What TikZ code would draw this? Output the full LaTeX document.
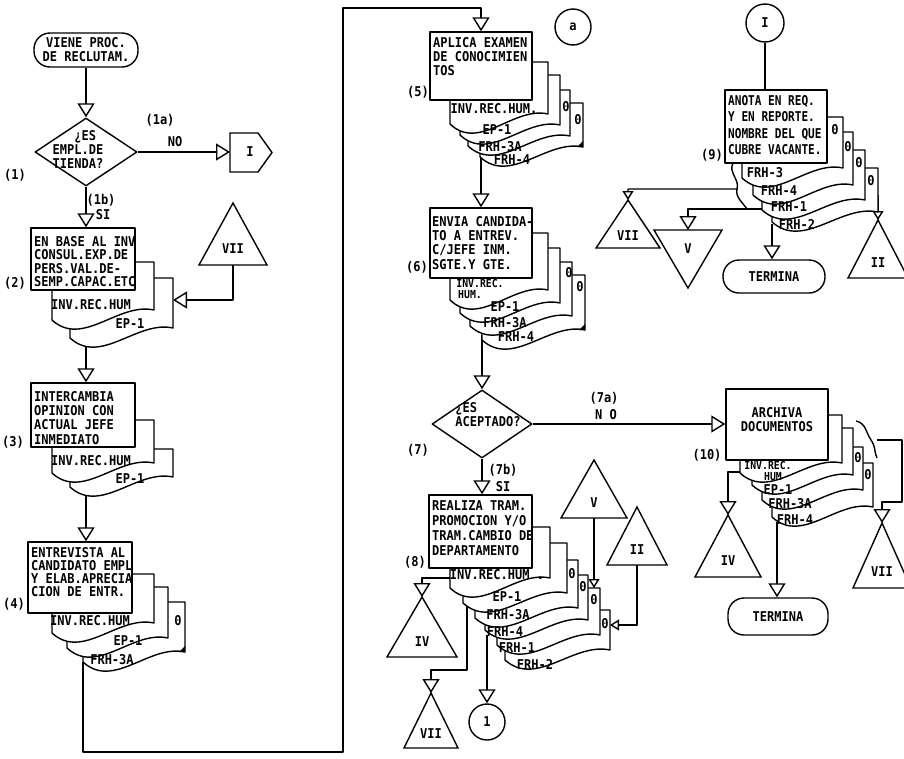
\documentclass[tikz,border=0pt]{standalone}
\usepackage{fontspec}
\setmonofont{DejaVu Sans Mono}[FakeStretch=0.89]
\newfontfamily\narrowmono{DejaVu Sans Mono}[FakeStretch=0.82]
\usetikzlibrary{arrows.meta,shapes.geometric}

\newcommand\flowfont{\fontsize{13.5}{14}\selectfont\ttfamily\bfseries}
\newcommand\flowfontat[1]{\fontsize{13.5}{#1}\selectfont\ttfamily\bfseries}
\newcommand\narrowflowfont{\fontsize{13.5}{16.5}\selectfont\narrowmono\bfseries}
\newcommand\smallflowfont{\fontsize{11}{12}\selectfont\ttfamily\bfseries}

\pgfdeclarelayer{wires}
\pgfsetlayers{wires,main}

\tikzset{
  ink/.style={line width=1.4pt, line join=round},
  proc/.style={ink, draw, fill=white, rectangle, inner sep=0pt},
  term/.style={ink, draw, fill=white, rectangle, rounded corners=16pt, inner sep=0pt, font=\flowfont, align=center},
  decision/.style={ink, draw, fill=white, diamond, inner sep=0pt},
  conn/.style={ink, draw, fill=white, circle, inner sep=0pt, font=\flowfont},
  sheet/.style={ink, draw, fill=white},
  offpage/.style={ink, draw, fill=white, line join=miter},
  txt/.style={font=\flowfont, inner sep=0pt, align=left},
  boxtxt/.style={font=\flowfontat{#1}, inner sep=0pt, align=left, anchor=north west},
  smalltxt/.style={font=\smallflowfont, inner sep=0pt, align=left},
  link/.style={ink},
  flow/.style={ink, -{Triangle[fill=white, length=14pt, width=17pt]}},
  sflow/.style={ink, -{Triangle[fill=white, length=9pt, width=11pt]}},
}

% process box from its corners: name, x1, y1, x2, y2
\newcommand\procbox[5]{\node[proc, minimum width={#4-#2}, minimum height={#5-#3}] (#1) at ({(#2+#4)/2},{(#3+#5)/2}) {};}
% document sheet with a wavy lower edge: x1, top, x2, lower-left y
\newcommand\docsheet[4]{\path[sheet] (#1,#2) -- (#3,#2) -- (#3,#4-10) .. controls +({-0.35*(#3-#1)},-8) and +({0.3*(#3-#1)},28) .. (#1,#4) -- cycle;}
% upward off-page triangle: name, apex x, apex y, half width, height, label
\newcommand\offtri[6]{\path[offpage] (#2,#3) -- ++({-(#4)},#5) -- ++({2*(#4)},0) -- cycle;
  \coordinate (#1) at (#2,#3); \coordinate (#1b) at (#2,{#3+#5});
  \node[txt] (#1t) at (#2,{#3+0.74*#5}) {#6};}
% free text: name, x, y, text
\newcommand\lbl[4]{\node[txt] (#1) at (#2,#3) {#4};}
% ink corner mark
\newcommand\cornermark[2]{\fill (#1,#2) -- +(-6,0) -- +(0,-6) -- cycle;}

\begin{document}
\begin{tikzpicture}[x=1pt,y=-1pt]
\useasboundingbox (0,0) rectangle (904,758);
\clip (0,0) rectangle (904,758);

% ---------- connection points on sheets ----------
\coordinate (s2) at (86,344);
\coordinate (s3) at (86,494);
\coordinate (s4) at (83,662);
\coordinate (loopA) at (343,752);
\coordinate (loopB) at (481,8);
\coordinate (s5) at (481,150);
\coordinate (s6) at (482,335);
\coordinate (c2r) at (173,300);
\coordinate (c8a) at (450,578);
\coordinate (c8b) at (467,606);
\coordinate (m8b) at (431,670);
\coordinate (c8d) at (487,635);
\coordinate (c8e) at (594,588);
\coordinate (c8f) at (610,625);
\coordinate (c9a) at (733,163);
\coordinate (j9) at (737,189);
\coordinate (j9b) at (747,209);
\coordinate (c9c) at (762,209);
\coordinate (c9d) at (772,224);
\coordinate (c9e) at (878,195);
\coordinate (c10a) at (740,472);
\coordinate (c10s) at (877,440);
\coordinate (m10) at (902,502);
\coordinate (c10d) at (777,522);
\coordinate (p1) at (230,152);

% ---------- left column ----------
\node[term, minimum width=104, minimum height=34] (t1) at (86,50) {VIENE PROC.\\DE RECLUTAM.};
\node[decision, minimum width=102, minimum height=68] (d1) at (86,152) {};
\path[offpage] (230,133) -- (258,133) -- (272,152.5) -- (258,172) -- (230,172) -- cycle;

\docsheet{70}{278}{173}{338}
\docsheet{52}{262}{154}{320}
\procbox{b2}{31}{228}{135}{290}
\offtri{t7a}{233}{203}{34}{62}{VII}

\docsheet{70}{449}{173}{487}
\docsheet{52}{420}{154}{473}
\procbox{b3}{31}{383}{135}{447}

\docsheet{83}{602}{185}{662}
\docsheet{67}{587}{168}{648}
\docsheet{52}{574}{154}{633}
\procbox{b4}{28}{542}{132}{613}
\cornermark{185}{652}

% ---------- middle column ----------
\node[conn, minimum size=36] (ka) at (573,27) {a};

\docsheet{480}{103}{583}{157}
\docsheet{468}{90}{570}{146}
\docsheet{460}{75}{560}{135}
\docsheet{450}{62}{548}{124}
\procbox{b5}{430}{32}{532}{100}
\cornermark{583}{147}

\docsheet{482}{275}{585}{340}
\docsheet{470}{262}{572}{326}
\docsheet{460}{248}{560}{313}
\docsheet{450}{233}{548}{300}
\procbox{b6}{430}{208}{532}{278}
\cornermark{585}{330}

\node[decision, minimum width=100, minimum height=68] (d7) at (482,424) {};

\docsheet{505}{610}{610}{660}
\docsheet{497}{588}{600}{645}
\docsheet{485}{575}{588}{630}
\docsheet{475}{560}{578}{618}
\docsheet{463}{543}{567}{603}
\docsheet{450}{527}{550}{588}
\procbox{b8}{429}{495}{532}{568}

\offtri{t4a}{422}{597}{35}{60}{IV}
\offtri{t7b}{431}{693}{27}{55}{VII}
\offtri{t5a}{594}{460}{33}{58}{V}
\offtri{t2a}{637}{507}{30}{58}{II}
\node[conn, minimum size=36] (k1) at (487,722) {1};

% ---------- right column ----------
\node[conn, minimum size=38] (ki) at (765,23) {I};

\docsheet{772}{168}{878}{222}
\docsheet{762}{150}{865}{210}
\docsheet{753}{132}{853}{195}
\docsheet{742}{117}{843}{178}
\procbox{b9}{725}{90}{827}{163}

\offtri{t7c}{628}{200}{32}{48}{VII}
\path[offpage] (654,230) -- (722,230) -- (688,288) -- cycle;
\coordinate (t5b) at (688,230);
\node[txt] (t5bt) at (688,249) {V};
\offtri{t2b}{878}{220}{30}{58}{II}
\node[term, minimum width=102, minimum height=33] (e1) at (774,276.5) {TERMINA};

\docsheet{772}{463}{873}{517}
\docsheet{762}{447}{863}{500}
\docsheet{752}{428}{853}{485}
\docsheet{740}{415}{842}{473}
\procbox{b10}{726}{389}{828}{460}
\draw[link] (856,421) .. controls (866,423) and (866,433) .. (871,440) .. controls (876,447) and (874,452) .. (877,458);

\offtri{t4b}{728}{515}{33}{62}{IV}
\offtri{t7d}{882}{523}{29}{65}{VII}
\node[term, minimum width=100, minimum height=37] (e2) at (778,616.5) {TERMINA};

% ---------- texts in boxes ----------
\node[txt] (d1t) at (78,149) {\hphantom{XXX}¿ES\\EMPL.DE\\TIENDA?};
\lbl{p1t}{250}{152}{I}
\node[boxtxt=13.4] (b2t) at (34,236) {EN BASE AL INV\\CONSUL.EXP.DE\\PERS.VAL.DE-\\SEMP.CAPAC.ETC};
\node[boxtxt=14.3] (b3t) at (34,391) {INTERCAMBIA\\OPINION CON\\ACTUAL JEFE\\INMEDIATO};
\node[boxtxt=13.2] (b4t) at (31,547) {ENTREVISTA AL\\CANDIDATO EMPL\\Y ELAB.APRECIA\\CION DE ENTR.};
\node[boxtxt=14] (b5t) at (433,37) {APLICA EXAMEN\\DE CONOCIMIEN\\TOS};
\node[boxtxt=14.3] (b6t) at (432,216) {ENVIA CANDIDA-\\TO A ENTREV.\\C/JEFE INM.\\SGTE.Y GTE.};
\node[txt] (d7t) at (488,415) {¿ES\\ACEPTADO?};
\node[boxtxt=15.3] (b8t) at (432,500) {REALIZA TRAM.\\PROMOCION Y/O\\TRAM.CAMBIO DE\\DEPARTAMENTO};
\node[font=\narrowflowfont, inner sep=0pt, align=left, anchor=north west] (b9t) at (728,95) {ANOTA EN REQ.\\Y EN REPORTE.\\NOMBRE DEL QUE\\CUBRE VACANTE.};
\node[txt, align=center] (b10t) at (777,420) {ARCHIVA\\DOCUMENTOS};

% ---------- step numbers and branch labels ----------
\lbl{n1}{15}{175}{(1)}
\lbl{n1a}{160}{120}{(1a)}
\lbl{n1no}{175}{142}{NO}
\lbl{n1b}{101}{200}{(1b)}
\lbl{n1si}{103}{215}{SI}
\lbl{n2}{15}{283}{(2)}
\lbl{n3}{13}{442}{(3)}
\lbl{n4}{14}{604}{(4)}
\lbl{n5}{418}{92}{(5)}
\lbl{n6}{417}{267}{(6)}
\lbl{n7}{418}{450}{(7)}
\lbl{n7a}{604}{398}{(7a)}
\lbl{n7no}{606}{415}{N O}
\lbl{n7b}{503}{470}{(7b)}
\lbl{n7si}{503}{487}{SI}
\lbl{n8}{415}{562}{(8)}
\lbl{n9}{712}{155}{(9)}
\lbl{n10}{707}{455}{(10)}

% ---------- sheet captions ----------
\lbl{f2a}{91}{305}{INV.REC.HUM}
\lbl{f2b}{130}{324}{EP-1}
\lbl{f3a}{91}{461}{INV.REC.HUM}
\lbl{f3b}{130}{479}{EP-1}
\lbl{f4a}{90}{621}{INV.REC.HUM}
\lbl{f4b}{128}{641}{EP-1}
\lbl{f4c}{112}{660}{FRH-3A}
\lbl{z4a}{178}{621}{0}

\lbl{f5a}{494}{109}{INV.REC.HUM.}
\lbl{f5b}{497}{130}{EP-1}
\lbl{f5c}{500}{147}{FRH-3A}
\lbl{f5d}{512}{160}{FRH-4}
\lbl{z5a}{566}{107}{0}
\lbl{z5b}{578}{120}{0}

\node[smalltxt] (f6a) at (480,283) {INV.REC.};
\node[smalltxt] (f6a2) at (470,295) {HUM.};
\lbl{f6b}{505}{307}{EP-1}
\lbl{f6c}{505}{323}{FRH-3A}
\lbl{f6d}{516}{337}{FRH-4}
\lbl{z6a}{569}{273}{0}
\lbl{z6b}{580}{287}{0}

\lbl{f8a}{497}{575}{INV.REC.HUM .}
\lbl{f8b}{507}{597}{EP-1}
\lbl{f8c}{508}{615}{FRH-3A}
\lbl{f8d}{505}{632}{FRH-4}
\lbl{f8e}{517}{648}{FRH-1}
\lbl{f8f}{535}{664}{FRH-2}
\lbl{z8a}{572}{574}{0}
\lbl{z8b}{583}{587}{0}
\lbl{z8c}{594}{600}{0}
\lbl{z8d}{605}{624}{0}

\lbl{f9a}{765}{173}{FRH-3}
\lbl{f9b}{779}{191}{FRH-4}
\lbl{f9c}{789}{207}{FRH-1}
\lbl{f9d}{797}{224}{FRH-2}
\lbl{z9a}{835}{130}{0}
\lbl{z9b}{848}{147}{0}
\lbl{z9c}{859}{163}{0}
\lbl{z9d}{871}{181}{0}

\node[smalltxt] (f10a) at (768,465) {INV.REC.};
\node[smalltxt] (f10a2) at (773,477) {HUM};
\lbl{f10b}{778}{490}{EP-1}
\lbl{f10c}{790}{504}{FRH-3A}
\lbl{f10d}{795}{520}{FRH-4}
\lbl{z10a}{858}{458}{0}
\lbl{z10b}{868}{475}{0}

% ---------- connectors (drawn beneath the shapes) ----------
\begin{pgfonlayer}{wires}
\draw[flow] (t1) -- (d1);
\draw[flow] (d1.east) -- (p1);
\draw[flow] (d1.south) -- (d1.south |- b2.north);
\draw[flow] (t7ab) |- (c2r);
\draw[flow] (s2) -- (s2 |- b3.north);
\draw[flow] (s3) -- (s3 |- b4.north);
\draw[flow] (s4) |- (loopA) |- (loopB) -- (b5.north);
\draw[flow] (s5) -- (b6.north);
\draw[flow] (s6) -- (d7.north);
\draw[flow] (d7.east) -- (d7.east -| b10.west);
\draw[flow] (d7.south) -- (d7.south |- b8.north);
\draw[flow] (c8a) -| (t4a);
\draw[flow] (c8b) |- (m8b) -- (t7b);
\draw[flow] (c8d) -- (k1.north);
\draw[sflow] (t5ab) -- (c8e);
\draw[sflow] (t2ab) |- (c8f);
\draw[link] (ki) -- (ki |- b9.north);
\draw[sflow] (c9a) .. controls +(-5,9) and +(3,-9) .. (j9) -| (t7c);
\draw[link] (j9) .. controls +(-2,8) and +(-4,-6) .. (j9b);
\draw[flow] (c9c) -| (t5b);
\draw[flow] (c9d) -- (c9d |- e1.north);
\draw[sflow] (c9e) -- (t2b);
\draw[flow] (c10a) -| (t4b);
\draw[flow] (c10s) -| (m10) -| (t7d);
\draw[flow] (c10d) -- (c10d |- e2.north);
\end{pgfonlayer}
\end{tikzpicture}
\end{document}
